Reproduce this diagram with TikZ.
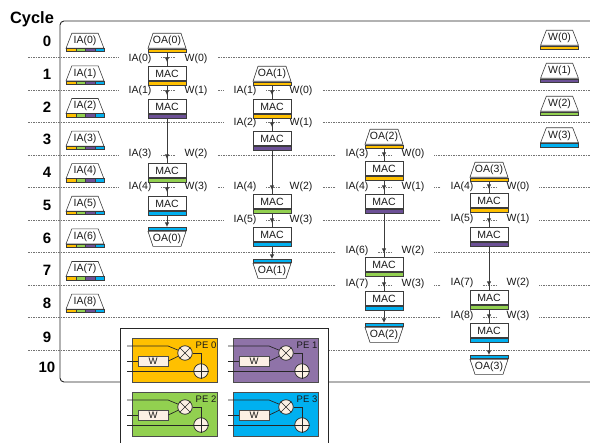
\documentclass[tikz,border=0pt]{standalone}
\usepackage{fontspec}
\setmainfont{Liberation Sans}
\usetikzlibrary{arrows.meta}
\usetikzlibrary{positioning}
\usetikzlibrary{shapes.geometric}
\definecolor{myorange}{RGB}{255,192,0}
\definecolor{mygreen}{RGB}{146,208,80}
\definecolor{mypurple}{RGB}{143,115,168}
\definecolor{mybarpurple}{RGB}{108,80,150}
\definecolor{myblue}{RGB}{0,176,240}
\definecolor{mycream}{RGB}{252,240,228}
\definecolor{myline}{RGB}{60,60,60}
\tikzset{
txt/.style={inner sep=0pt,font=\fontsize{10.5}{12}\selectfont,text=black!90},
cyclenum/.style={inner sep=0pt,font=\fontsize{15}{18}\selectfont\bfseries},
lab/.style={txt,fill=white,inner xsep=9.5pt,inner ysep=1pt},
macbox/.style={txt,draw=myline,line width=0.8pt,fill=white,minimum width=38pt,minimum height=14.5pt,anchor=north},
barbox/.style={draw=myline,line width=0.6pt,inner sep=0pt,minimum width=38pt,minimum height=3.5pt},
mem/.style={txt,draw=myline,line width=0.6pt,trapezium,trapezium stretches=true,trapezium left angle=63,trapezium right angle=63,minimum width=38pt,minimum height=15pt,anchor=north},
memflip/.style={mem,shape border rotate=180},
rowline/.style={dash pattern=on 1.5pt off 1pt,line width=0.5pt,black!55},
conn/.style={line width=0.8pt,myline},
lastconn/.style={conn,-{Latex[length=4.5pt,width=4.5pt]}},
pewire/.style={line width=0.7pt,black!85},
opnode/.style={circle,draw=black!85,line width=0.7pt,fill=mycream,minimum size=14.5pt,inner sep=0pt},
}

\begin{document}
\begin{tikzpicture}[x=1pt,y=-1pt]
\useasboundingbox (0,0) rectangle (590,443);

\node[cyclenum,font=\fontsize{16.4}{18}\selectfont\bfseries] (cycle) at (32,19) {Cycle};
\foreach \n/\y in {0/41,1/74,2/107,3/139,4/172,5/205,6/238,7/270,8/303,9/337,10/367}
  \node[cyclenum] (c\n) at (47,\y) {\n};

\draw[line width=0.9pt,black!85,rounded corners=4pt] (590,21) -- (60,21) -- (60,382) -- (590,382);

%%%%%%%%%% cycle lines
\foreach \y in {57,90,122,155,187,220,252,285,317,350}
  \draw[rowline] (28,\y) -- (590,\y);

%%%%%%%%%% IA and W labels on the lines
\foreach \x/\y/\a/\b in {167/59/0/0,167/91/1/1,167/154/3/2,167/187/4/3,
  272/91/1/0,272/123/2/1,272/187/4/2,272/220/5/3,
  384/154/3/0,384/187/4/1,384/251/6/2,384/284/7/3,
  489/187/4/0,489/219/5/1,489/283/7/2,489/316/8/3}{
  \node[lab] (ia-\x-\y) at (\x-27,\y) {IA(\a)};
  \node[lab] (w-\x-\y) at (\x+29,\y) {W(\b)};
}

%%%%%%%%%% IA buffers
\foreach \i in {0,...,8}{
  \pgfmathsetmacro{\ytop}{33+32.6*\i}
  \node[mem] (ia\i) at (85,\ytop) {IA(\i)};
  \foreach \j/\col in {0/myorange,1/mygreen,2/mybarpurple,3/myblue}
    \node[barbox,fill=\col,minimum width=9.5pt,anchor=north west] (iabar\i\j) at (66+9.5*\j,\ytop+15) {};
}

%%%%%%%%%% W buffers
\foreach \i/\y/\col in {0/30/myorange,1/63/mybarpurple,2/96/mygreen,3/127.5/myblue}{
  \node[mem] (wb\i) at (559.5,\y) {W(\i)};
  \node[barbox,fill=\col,below=0pt of wb\i] (wbar\i) {};
}

%%%%%%%%%% columns of MAC
\foreach \c/\x/\oatop/\ta/\tb/\tc/\td/\oabot in {0/167/33/66/99/163/196/227,1/272/66/99/131/194/227/259,
  2/384/129/161/194/257/291/323,3/489/162/193/227/290/323/355}{
  \node[mem] (oat\c) at (\x,\oatop) {OA(\c)};
  \node[barbox,fill=myorange,below=0pt of oat\c] (oatbar\c) {};
  \foreach \i/\y/\col in {1/\ta/myorange,2/\tb/mybarpurple,3/\tc/mygreen,4/\td/myblue}{
    \node[macbox] (mac\c\i) at (\x,\y) {MAC};
    \node[barbox,fill=\col,below=0pt of mac\c\i] (bar\c\i) {};
  }
  \node[barbox,fill=myblue,anchor=north] (oabar\c) at (\x,\oabot) {};
  \node[memflip,anchor=north] (oab\c) at (oabar\c.south) {OA(\c)};
  \foreach \a/\b in {oatbar\c/mac\c1,bar\c1/mac\c2,bar\c2/mac\c3,bar\c3/mac\c4}{
    \draw[conn] (\a) -- (\b);
    \draw[lastconn] (\a) -- ([yshift=4pt]\b.north);
  }
  \draw[lastconn] (bar\c4) -- (oabar\c);
}

%%%%%%%%%% PE legend
\draw[line width=0.8pt,black!85,fill=white] (120,443) -- (120,328.5) -- (328,328.5) -- (328,443);
\foreach \n/\px/\py/\col in {0/132/338/myorange,1/233/338/mypurple,2/132/392/mygreen,3/233/392/myblue}{
\begin{scope}[shift={(\px,\py)}]
\fill[\col,draw=black!70,line width=0.6pt] (0,0) rectangle (85.5,44);
\node[txt,font=\fontsize{9.5}{11}\selectfont] (pe\n) at (74,7.5) {PE \n};
\node[txt,draw=black!70,line width=0.7pt,fill=mycream,minimum width=30pt,minimum height=10pt,font=\fontsize{9.5}{10}\selectfont] (wreg\n) at (21,23) {W};
\node[opnode] (mul\n) at (53,15) {};
\node[opnode] (add\n) at (69,33) {};
\draw[pewire] (mul\n.north west) -- (mul\n.south east) (mul\n.north east) -- (mul\n.south west);
\draw[pewire] (add\n.north) -- (add\n.south) (add\n.west) -- (add\n.east);
\coordinate (ina\n) at (-5,8);
\coordinate (inb\n) at (-5,23);
\coordinate (inc\n) at (-5,33);
\draw[pewire] (ina\n) -- (36,8) -- (mul\n);
\draw[pewire] (inb\n) -- (wreg\n);
\draw[pewire] (wreg\n.east) -- (mul\n);
\draw[pewire] (inc\n) -- (add\n);
\draw[pewire] (mul\n.east) -| (add\n.north);
\end{scope}
}
\end{tikzpicture}
\end{document}
